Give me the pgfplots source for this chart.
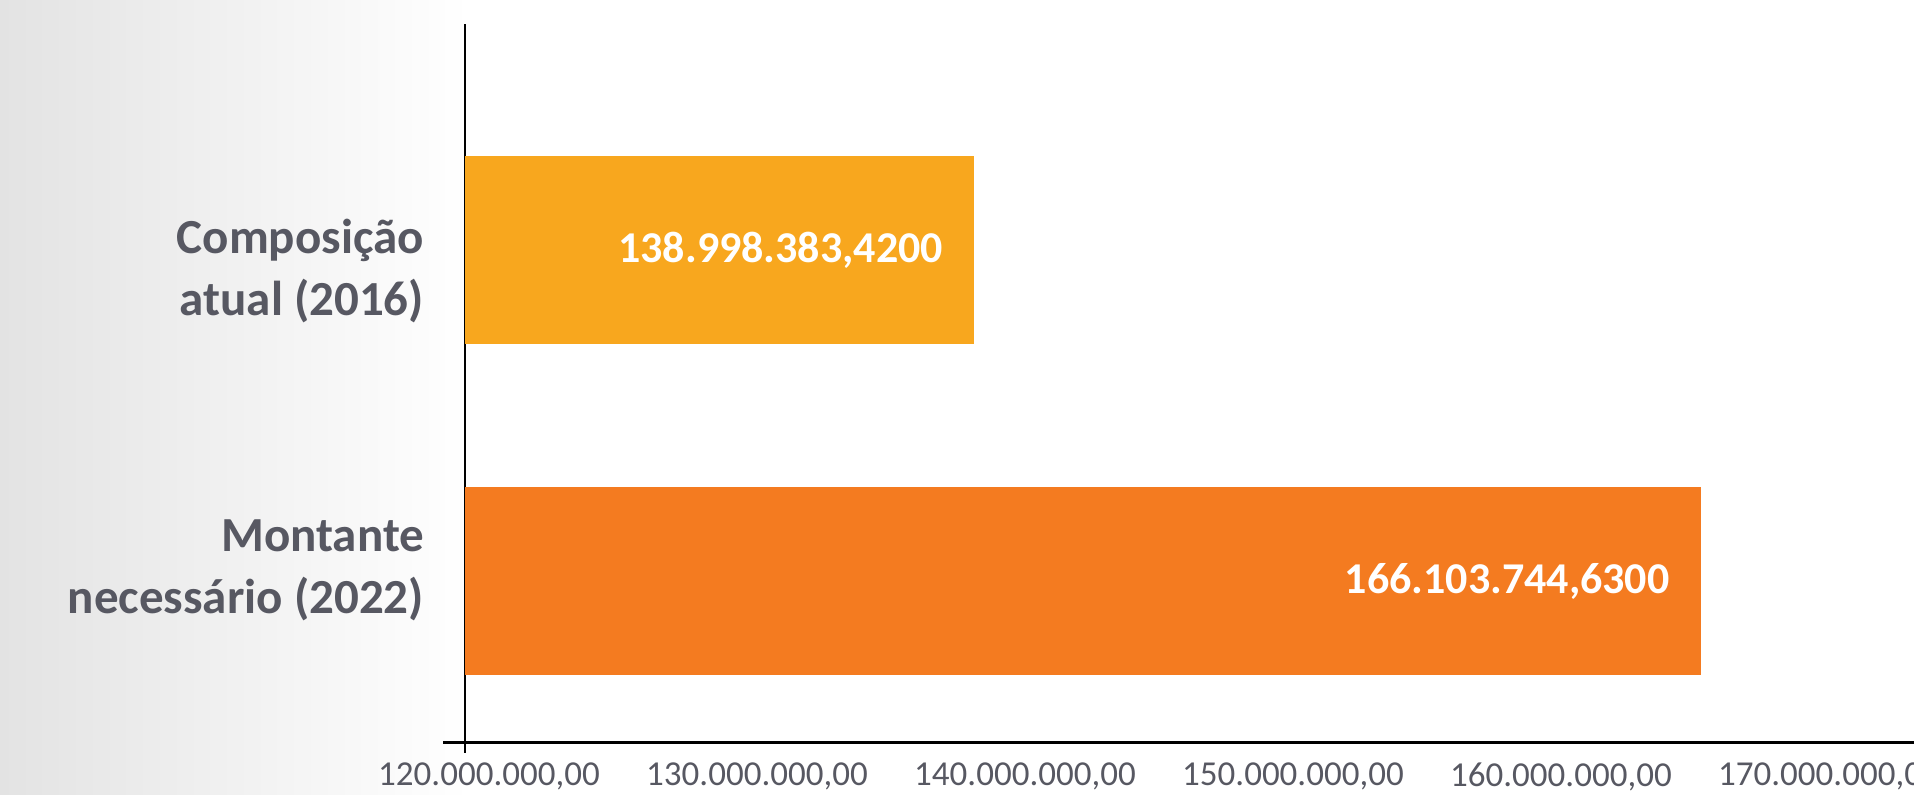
\documentclass[border=0pt]{standalone}
\usepackage{pgfplots}
\pgfplotsset{compat=1.18}
\usepackage{fontspec}
\setmainfont{Carlito}
\definecolor{barA}{HTML}{F8A71E}
\definecolor{barB}{HTML}{F47B20}
\definecolor{txt}{HTML}{575862}
\definecolor{bgL}{HTML}{E3E3E3}
\begin{document}
\begin{tikzpicture}
\shade[left color=bgL, right color=white] (0,0) rectangle (235bp,397.5bp);
\begin{axis}[
 at={(232.5bp,26.5bp)}, anchor=south west,
 scale only axis, width=724.5bp, height=359bp,
 xmin=120e6, xmax=174.07e6, ymin=-0.485, ymax=1.684,
 xbar, bar width=94bp, bar shift=0pt,
 axis x line=bottom, axis y line=left,
 x axis line style={-, line width=1.5bp, black},
 y axis line style={-, line width=1bp, black},
 major tick length=0pt,
 xtick={120e6,130e6,140e6,150e6,160e6,170e6},
 scaled x ticks=false,
 /pgf/number format/fixed,
 /pgf/number format/fixed zerofill,
 /pgf/number format/precision=2,
 /pgf/number format/1000 sep={.},
 /pgf/number format/dec sep={,},
 /pgf/number format/assume math mode=true,
 xticklabel style={font=\fontsize{17.5bp}{20bp}\selectfont, text=txt, xshift=12bp, yshift=-7bp},
 ytick={0.035,0.938},
 yticklabels={{Montante\\necessário (2022)},{Composição\\atual (2016)}},
 yticklabel style={font=\fontsize{24.5bp}{31bp}\selectfont\bfseries, text=txt, align=right, xshift=-17bp},
 point meta=explicit symbolic,
 nodes near coords,
 every node near coord/.append style={anchor=east, xshift=-12bp, text=white, font=\fontsize{22bp}{26bp}\selectfont\bfseries},
 clip=false,
]
\addplot[fill=barB, draw=none] coordinates {(166103744.63,0) [166.103.744,6300]};
\addplot[fill=barA, draw=none] coordinates {(138998383.42,1) [138.998.383,4200]};
\draw[line width=1.5bp, black] ([xshift=-11bp]axis cs:120e6,-0.485) -- (axis cs:120e6,-0.485);
\draw[line width=1bp, black] (axis cs:120e6,-0.485) -- ([yshift=-5.5bp]axis cs:120e6,-0.485);
\end{axis}
\pgfresetboundingbox
\path[use as bounding box] (0,0) rectangle (957bp,397.5bp);
\end{tikzpicture}
\end{document}
